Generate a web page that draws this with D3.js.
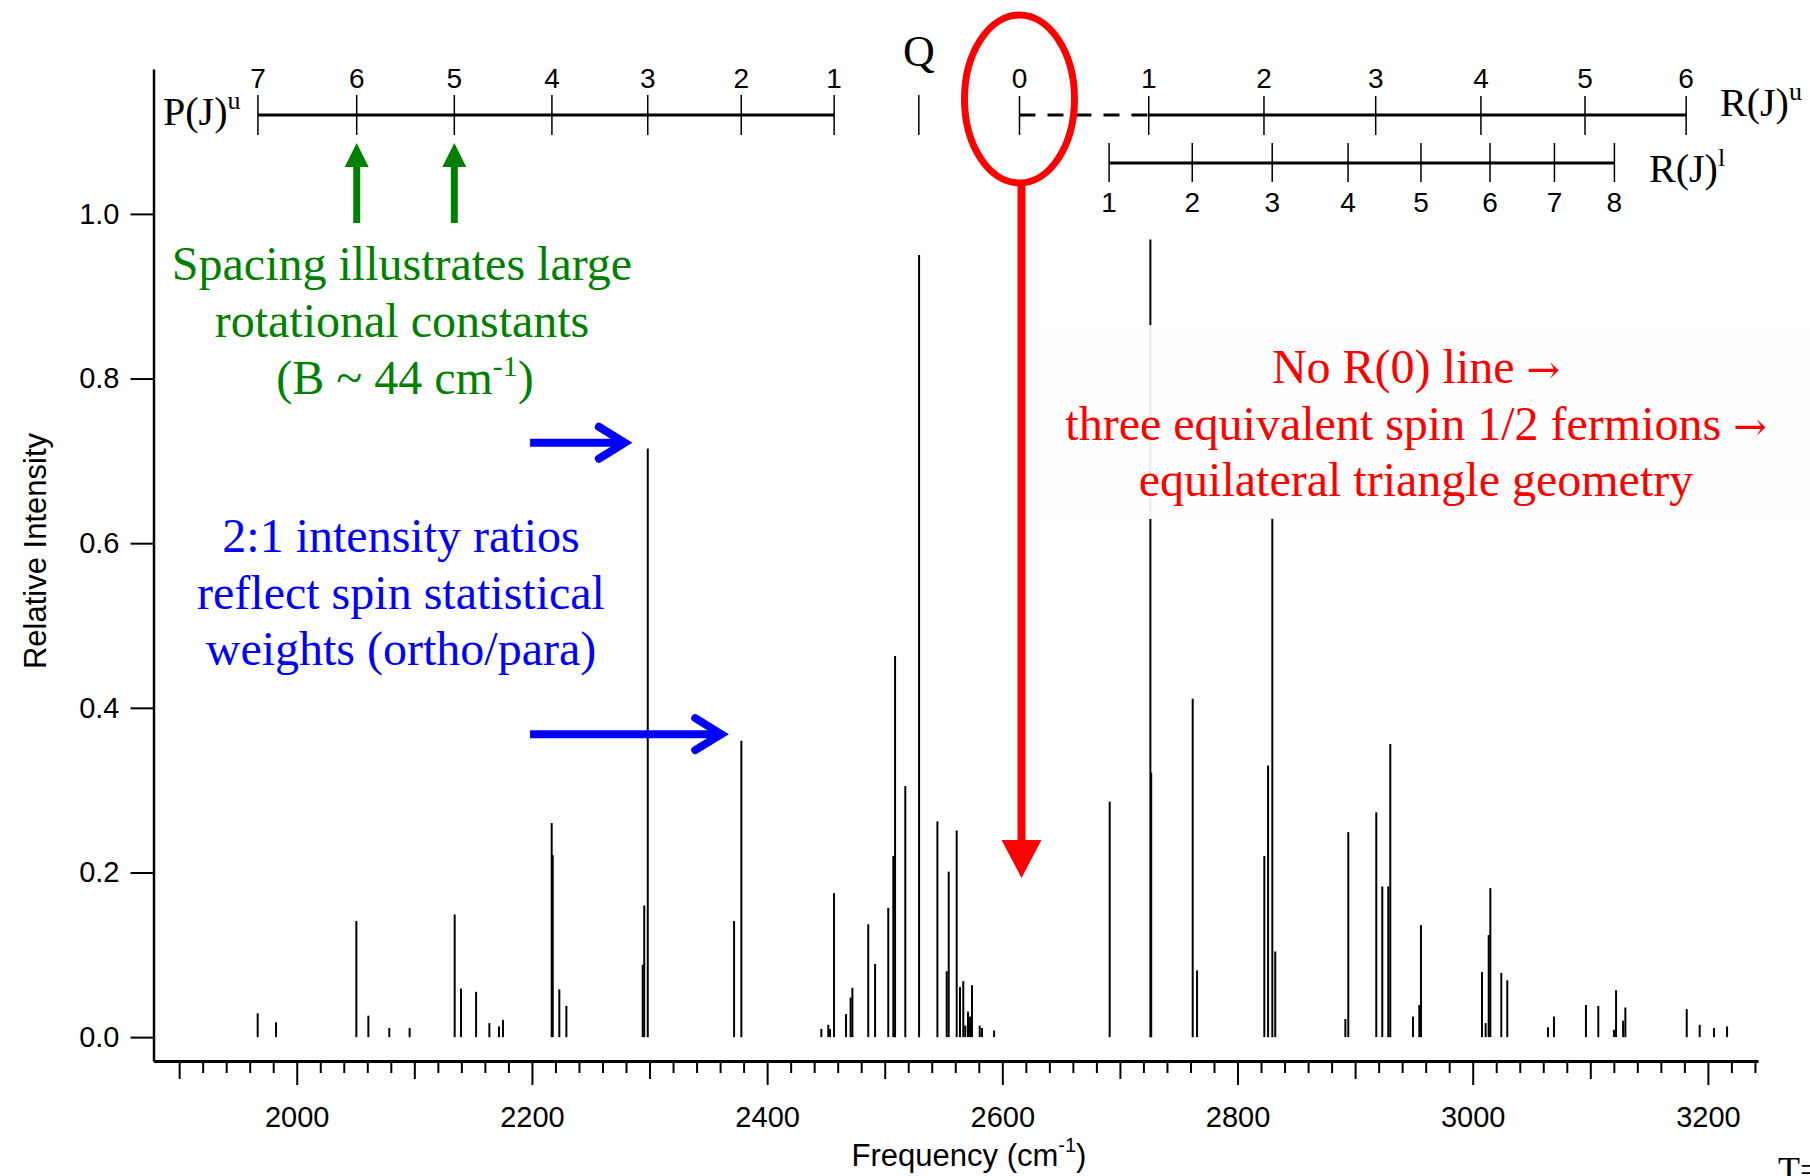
<!DOCTYPE html>
<html>
<head>
<meta charset="utf-8">
<title>rovibrational stick spectrum</title>
<script src="https://d3js.org/d3.v7.min.js"></script>
<style>
  body { margin: 0; background: #fff; }
</style>
</head>
<body>
<div id="chart"></div>
<script>
// line positions (cm-1) and relative intensities
var freqs = [1966.8, 1982.4, 2050.7, 2060.9, 2078.7, 2096.0, 2134.3, 2139.7, 2152.5, 2163.8,
  2172.0, 2175.4, 2216.8, 2217.7, 2223.3, 2229.3, 2294.2, 2295.5, 2298.5, 2371.9,
  2378.1, 2446.1, 2452.0, 2453.5, 2456.9, 2467.1, 2471.0, 2472.5, 2486.0, 2491.8,
  2503.0, 2507.3, 2508.8, 2517.5, 2529.2, 2544.8, 2552.7, 2554.4, 2561.2, 2564.0,
  2566.8, 2568.5, 2570.8, 2572.5, 2574.2, 2580.8, 2582.7, 2593.0, 2691.3, 2725.9,
  2726.6, 2761.9, 2765.6, 2822.8, 2826.0, 2829.6, 2832.1, 2891.7, 2894.2, 2918.0,
  2923.1, 2928.2, 2929.9, 2949.2, 2954.6, 2956.0, 3007.9, 3011.0, 3013.6, 3015.0,
  3024.3, 3029.4, 3064.0, 3069.1, 3096.3, 3106.8, 3120.2, 3121.9, 3127.9, 3129.8,
  3182.0, 3193.0, 3205.2, 3216.3]
var intens = [0.029, 0.018, 0.141, 0.026, 0.011, 0.011, 0.149, 0.059, 0.055, 0.017,
  0.013, 0.021, 0.260, 0.221, 0.058, 0.038, 0.088, 0.160, 0.715, 0.141,
  0.360, 0.010, 0.015, 0.010, 0.175, 0.028, 0.048, 0.060, 0.137, 0.089,
  0.157, 0.220, 0.463, 0.305, 0.950, 0.262, 0.080, 0.201, 0.251, 0.061,
  0.068, 0.014, 0.031, 0.025, 0.063, 0.014, 0.011, 0.008, 0.286, 0.969,
  0.321, 0.411, 0.081, 0.220, 0.330, 0.631, 0.104, 0.022, 0.249, 0.273,
  0.183, 0.183, 0.356, 0.025, 0.039, 0.136, 0.079, 0.017, 0.124, 0.181,
  0.078, 0.069, 0.012, 0.025, 0.039, 0.038, 0.009, 0.057, 0.020, 0.036,
  0.034, 0.015, 0.011, 0.013]

// assignment rulers
var pJ = [7, 6, 5, 4, 3, 2, 1]
var pFreq = [1967, 2051, 2134, 2217, 2298.5, 2378, 2457]
var qFreq = 2529
var ruJ = [0, 1, 2, 3, 4, 5, 6]
var ruFreq = [2614.6, 2724.5, 2822.5, 2917.5, 3007, 3095.5, 3181.5]
var rlJ = [1, 2, 3, 4, 5, 6, 7, 8]
var rlFreq = [2690.8, 2761.5, 2829.5, 2894, 2956, 3014.7, 3069.5, 3120.5]

var yTicks = [0, 0.2, 0.4, 0.6, 0.8, 1.0]

var greenText = ["Spacing illustrates large", "rotational constants"]
var blueText = ["2:1 intensity ratios", "reflect spin statistical", "weights (ortho/para)"]
// [text, ends with an arrow?]
var redText = [["No R(0) line ", true], ["three equivalent spin 1/2 fermions ", true], ["equilateral triangle geometry", false]]

var SANS = "'Liberation Sans', Arial, sans-serif"
var SERIF = "'Liberation Serif', 'Times New Roman', serif"

var svg = d3.select("#chart").append("svg")
  .attr("width", 1810)
  .attr("height", 1176)

var x = d3.scaleLinear().domain([1878.2, 3242.6]).range([153.5, 1758])
var y = d3.scaleLinear().domain([-0.029, 1.176]).range([1061, 69])

// x axis
var xAxis = svg.append("g")
  .attr("transform", "translate(0,1061)")
  .call(d3.axisBottom(x)
    .tickValues(d3.range(1900, 3241, 20))
    .tickSizeOuter(0)
    .tickFormat(function(d) { return d % 200 === 0 ? d : "" }))
xAxis.attr("font-family", SANS).attr("font-size", 29)
xAxis.select(".domain").attr("stroke-width", 3)
xAxis.selectAll(".tick line")
  .attr("stroke-width", 2)
  .attr("y2", function(d) { return d % 200 === 0 ? 24 : (d % 100 === 0 ? 18 : 12) })
xAxis.selectAll(".tick text").attr("dy", null).attr("y", 66).attr("fill", "#000")

var xTitle = svg.append("text")
  .attr("x", 969).attr("y", 1166)
  .attr("text-anchor", "middle")
  .attr("font-family", SANS).attr("font-size", 31)
xTitle.append("tspan").text("Frequency (cm")
xTitle.append("tspan").attr("font-size", 20).attr("dy", -14).text("-1")
xTitle.append("tspan").attr("dy", 14).text(")")

// y axis
var yAxis = svg.append("g")
  .attr("transform", "translate(153.5,0)")
  .call(d3.axisLeft(y).tickValues(yTicks).tickSize(23).tickSizeOuter(0)
    .tickFormat(d3.format(".1f")))
yAxis.attr("font-family", SANS).attr("font-size", 29)
yAxis.select(".domain").attr("stroke-width", 2.5)
yAxis.selectAll(".tick line").attr("stroke-width", 2)
yAxis.selectAll(".tick text").attr("x", -34).attr("fill", "#000")

svg.append("text")
  .attr("transform", "translate(46,551) rotate(-90)")
  .attr("text-anchor", "middle")
  .attr("font-family", SANS).attr("font-size", 31)
  .text("Relative Intensity")

// stick spectrum
svg.append("g").selectAll("line")
  .data(freqs)
  .join("line")
  .attr("x1", function(d) { return x(d) })
  .attr("x2", function(d) { return x(d) })
  .attr("y1", y(0))
  .attr("y2", function(d, i) { return y(intens[i]) })
  .attr("stroke", "#000")
  .attr("stroke-width", 2)

// rulers on top
function ticks(g, list, labels, top, bot, labelY) {
  g.selectAll(null).data(list).join("line")
    .attr("x1", function(d) { return x(d) }).attr("x2", function(d) { return x(d) })
    .attr("y1", top).attr("y2", bot)
    .attr("stroke", "#000").attr("stroke-width", 1.5)
  g.selectAll(null).data(list).join("text")
    .attr("x", function(d) { return x(d) }).attr("y", labelY)
    .attr("text-anchor", "middle")
    .attr("font-family", SANS).attr("font-size", 28)
    .text(function(d, i) { return labels[i] })
}

var rulers = svg.append("g")
// P branch
rulers.append("line")
  .attr("x1", x(pFreq[0])).attr("x2", x(pFreq[pFreq.length - 1]))
  .attr("y1", 115).attr("y2", 115)
  .attr("stroke", "#000").attr("stroke-width", 3)
ticks(rulers.append("g"), pFreq, pJ, 95, 135, 88)
var pLab = rulers.append("text").attr("x", 163).attr("y", 125)
  .attr("font-family", SERIF).attr("font-size", 40)
pLab.append("tspan").text("P(J)")
pLab.append("tspan").attr("font-size", 26).attr("dy", -16).text("u")

// Q
rulers.append("line")
  .attr("x1", x(qFreq)).attr("x2", x(qFreq)).attr("y1", 95).attr("y2", 135)
  .attr("stroke", "#000").attr("stroke-width", 1.5)
rulers.append("text").attr("x", x(qFreq)).attr("y", 66)
  .attr("text-anchor", "middle")
  .attr("font-family", SERIF).attr("font-size", 44)
  .text("Q")

// R branch, upper
rulers.append("line")
  .attr("x1", x(ruFreq[0])).attr("x2", x(ruFreq[1]))
  .attr("y1", 115).attr("y2", 115)
  .attr("stroke", "#000").attr("stroke-width", 3)
  .attr("stroke-dasharray", "16,12")
rulers.append("line")
  .attr("x1", x(ruFreq[1])).attr("x2", x(ruFreq[ruFreq.length - 1]))
  .attr("y1", 115).attr("y2", 115)
  .attr("stroke", "#000").attr("stroke-width", 3)
ticks(rulers.append("g"), ruFreq, ruJ, 96, 135, 88)
var ruLab = rulers.append("text").attr("x", 1720).attr("y", 116)
  .attr("font-family", SERIF).attr("font-size", 40)
ruLab.append("tspan").text("R(J)")
ruLab.append("tspan").attr("font-size", 26).attr("dy", -16).text("u")

// R branch, lower
rulers.append("line")
  .attr("x1", x(rlFreq[0])).attr("x2", x(rlFreq[rlFreq.length - 1]))
  .attr("y1", 163).attr("y2", 163)
  .attr("stroke", "#000").attr("stroke-width", 3)
ticks(rulers.append("g"), rlFreq, rlJ, 143, 182, 212)
var rlLab = rulers.append("text").attr("x", 1649).attr("y", 182)
  .attr("font-family", SERIF).attr("font-size", 40)
rlLab.append("tspan").text("R(J)")
rlLab.append("tspan").attr("font-size", 26).attr("dy", -16).text("l")

// green annotation
var green = "#008000"
;[1, 2].forEach(function(i) {
  var gx = x(pFreq[i])
  svg.append("line").attr("x1", gx).attr("x2", gx).attr("y1", 223).attr("y2", 164)
    .attr("stroke", green).attr("stroke-width", 7)
  svg.append("polygon")
    .attr("points", [[gx - 12, 167], [gx + 12, 167], [gx, 143]].join(" "))
    .attr("fill", green)
})
var gt = svg.append("text").attr("font-family", SERIF).attr("font-size", 48)
  .attr("fill", green).attr("text-anchor", "middle")
greenText.forEach(function(s, i) {
  gt.append("tspan").attr("x", 402).attr("y", 280 + i * 57).text(s)
})
var g3 = gt.append("tspan").attr("x", 405).attr("y", 394)
g3.append("tspan").text("(B ~ 44 cm")
g3.append("tspan").attr("font-size", 30).attr("dy", -18).text("-1")
g3.append("tspan").attr("dy", 18).text(")")

// blue annotation
var blue = "#0000ff"
var bt = svg.append("text").attr("font-family", SERIF).attr("font-size", 48)
  .attr("fill", blue).attr("text-anchor", "middle")
blueText.forEach(function(s, i) {
  bt.append("tspan").attr("x", 401).attr("y", 552 + i * 56.5).text(s)
})
;[[0.722, 2279], [0.368, 2361]].forEach(function(a) {
  var ay = y(a[0]), x0 = x(2198.4), x1 = x(a[1])
  svg.append("line").attr("x1", x0).attr("x2", x1 - 3).attr("y1", ay).attr("y2", ay)
    .attr("stroke", blue).attr("stroke-width", 8)
  svg.append("path")
    .attr("d", "M" + (x1 - 26) + "," + (ay - 16) + "L" + x1 + "," + ay + "L" + (x1 - 26) + "," + (ay + 16))
    .attr("fill", "none").attr("stroke", blue).attr("stroke-width", 8)
    .attr("stroke-linecap", "round")
})

// red annotation
var red = "#ff0000"
var rx0 = x(ruFreq[0])
svg.append("ellipse").attr("cx", rx0).attr("cy", 99).attr("rx", 55).attr("ry", 84)
  .attr("fill", "none").attr("stroke", red).attr("stroke-width", 7)
svg.append("line").attr("x1", rx0 + 2).attr("x2", rx0 + 2).attr("y1", 183).attr("y2", 845)
  .attr("stroke", red).attr("stroke-width", 8)
svg.append("polygon")
  .attr("points", [[rx0 - 18, 840], [rx0 + 22, 840], [rx0 + 2, 878]].join(" "))
  .attr("fill", red)

svg.append("rect").attr("x", 1031).attr("y", 325).attr("width", 779).attr("height", 194)
  .attr("fill", "#fefefe").attr("opacity", 0.92)
var rt = svg.append("text").attr("font-family", SERIF).attr("font-size", 48)
  .attr("fill", red).attr("text-anchor", "middle")
redText.forEach(function(r, i) {
  var line = rt.append("tspan").attr("x", 1416).attr("y", 383 + i * 56.5)
  line.append("tspan").text(r[0])
  if (r[1]) line.append("tspan").attr("font-family", "'DejaVu Serif', serif")
    .attr("font-size", 40).text("\u2192")
})

svg.append("text").attr("x", 1778).attr("y", 1182)
  .attr("font-family", SERIF).attr("font-size", 36)
  .text("T=")
</script>
</body>
</html>
